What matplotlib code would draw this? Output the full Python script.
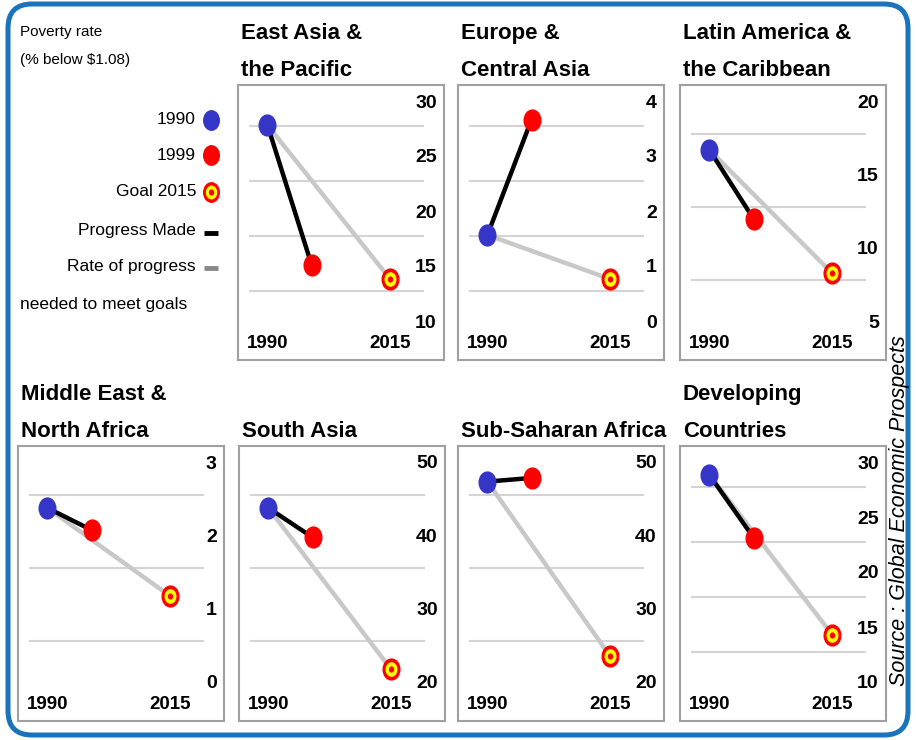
import matplotlib
matplotlib.use('Agg')
import matplotlib.pyplot as plt
from matplotlib.path import Path
from matplotlib.transforms import Affine2D
from matplotlib.patches import FancyBboxPatch

# poverty rate (% below $1.08)
regions = ['East Asia &\nthe Pacific', 'Europe &\nCentral Asia', 'Latin America &\nthe Caribbean',
           'Middle East &\nNorth Africa', 'South Asia', 'Sub-Saharan Africa', 'Developing\nCountries']
years = [1990, 1999, 2015]
rate_1990 = [28.0, 1.6, 16.8, 2.4, 44.0, 47.6, 29.0]
rate_1999 = [15.3, 3.7, 12.1, 2.1, 40.0, 48.1, 23.3]
goal_2015 = [14.0, 0.8, 8.4, 1.2, 22.0, 23.8, 14.5]
y_ticks = [[10, 15, 20, 25, 30], [0, 1, 2, 3, 4], [5, 10, 15, 20], [0, 1, 2, 3],
           [20, 30, 40, 50], [20, 30, 40, 50], [10, 15, 20, 25, 30]]

W, H = 916, 740
BLUE = '#3535c8'
RED = '#ff0000'
YELLOW = '#ffff00'
GRAY = '#c8c8c8'
FONT = ['Liberation Sans', 'DejaVu Sans']

# slightly tall ellipse, the original picture is stretched vertically
ell = Path.unit_circle().transformed(Affine2D().scale(0.8, 1.0))

fig = plt.figure(figsize=(W / 100, H / 100), dpi=100)

# pixel-coordinate overlay for frame, legend and source
bg = fig.add_axes([0, 0, 1, 1])
bg.set_xlim(0, W)
bg.set_ylim(H, 0)
bg.axis('off')
bg.add_patch(FancyBboxPatch((8, 4), 900, 731, boxstyle='round,pad=0,rounding_size=24',
                            fill=False, edgecolor='#1a74bb', lw=3.6))

bg.text(20, 32, 'Poverty rate', fontsize=11, family=FONT, va='center')
bg.text(20, 60, '(% below $1.08)', fontsize=11, family=FONT, va='center')
leg_y = [120, 155, 192, 230, 267]
leg_txt = ['1990', '1999', 'Goal 2015', 'Progress Made', 'Rate of progress']
for yy, t in zip(leg_y, leg_txt):
    bg.text(196, yy, t, fontsize=12.5, family=FONT, ha='right', va='center')
bg.plot(211, leg_y[0], marker=ell, ms=14, color=BLUE, ls='none')
bg.plot(211, leg_y[1], marker=ell, ms=14, color=RED, ls='none')
bg.plot(211, leg_y[2], marker=ell, ms=14, color=RED, ls='none')
bg.plot(211, leg_y[2], marker=ell, ms=9, color=YELLOW, ls='none')
bg.plot(211, leg_y[2], marker=ell, ms=3.5, color=RED, ls='none')
bg.plot([204, 218], [leg_y[3] + 3, leg_y[3] + 3], color='black', lw=3.5, solid_capstyle='butt')
bg.plot([204, 218], [leg_y[4] + 1, leg_y[4] + 1], color='#888888', lw=3.5, solid_capstyle='butt')
bg.text(20, 305, 'needed to meet goals', fontsize=12.5, family=FONT, va='center')

bg.text(900, 511, 'Source : Global Economic Prospects', fontsize=15.5, style='italic',
        family=FONT, rotation=90, ha='center', va='center')

box_xy = [(238, 85), (458, 85), (680, 85), (18, 446), (239, 446), (458, 446), (680, 446)]
box_w, box_h = 206, 275

for i, (bx, by) in enumerate(box_xy):
    # title above box, one text per line
    lines = regions[i].split('\n')
    for k, line in enumerate(reversed(lines)):
        bg.text(bx + 3, by - 9 - 37 * k, line, fontsize=16, fontweight='bold',
                family=FONT, va='baseline')

    ax = fig.add_axes([bx / W, 1 - (by + box_h) / H, box_w / W, box_h / H])
    tk = y_ticks[i]
    lo, hi = tk[0], tk[-1]
    span = hi - lo
    ax.set_ylim(lo - 37 / 220 * span, hi + 18 / 220 * span)
    ax.set_xlim(1984, 2026)
    step = tk[1] - tk[0]
    for v in tk[1:]:
        ax.axhline(v - 0.42 * step, xmin=0.06, xmax=0.9, color='#d4d4d4', lw=1.5, zorder=1)
    for v in tk:
        ax.text(0.965, v, str(v), transform=ax.get_yaxis_transform(), ha='right', va='center',
                fontsize=14, fontweight='bold', family=FONT)
    for yr in [years[0], years[2]]:
        ax.text(yr, 0.06, str(yr), transform=ax.get_xaxis_transform(), ha='center', va='center',
                fontsize=13.5, fontweight='bold', family=FONT)

    ax.plot([years[0], years[2]], [rate_1990[i], goal_2015[i]], color=GRAY, lw=3.2, zorder=2)
    ax.plot([years[0], years[1]], [rate_1990[i], rate_1999[i]], color='black', lw=3.2, zorder=3)
    ax.plot(years[0], rate_1990[i], marker=ell, ms=15, color=BLUE, ls='none', zorder=4)
    ax.plot(years[1], rate_1999[i], marker=ell, ms=15, color=RED, ls='none', zorder=4)
    ax.plot(years[2], goal_2015[i], marker=ell, ms=15, color=RED, ls='none', zorder=4)
    ax.plot(years[2], goal_2015[i], marker=ell, ms=9.5, color=YELLOW, ls='none', zorder=5)
    ax.plot(years[2], goal_2015[i], marker=ell, ms=3.5, color=RED, ls='none', zorder=6)

    ax.set_xticks([])
    ax.set_yticks([])
    for s in ax.spines.values():
        s.set_color('#a0a0a0')
        s.set_linewidth(1.5)

fig.savefig('out.png', dpi=100)
